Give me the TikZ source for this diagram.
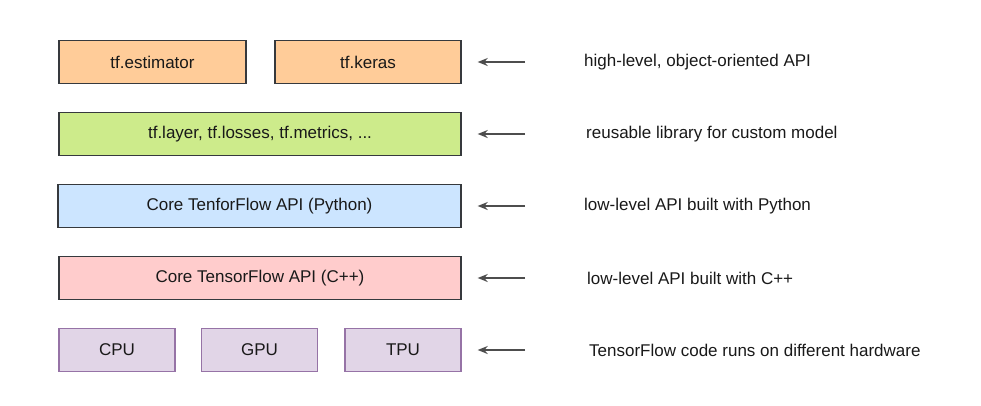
\documentclass[tikz,border=0pt]{standalone}
\usepackage{fontspec}
\setmainfont{Liberation Sans}
\usepackage{tikz}
\usetikzlibrary{arrows.meta, positioning, calc}

\definecolor{orangefill}{HTML}{FFCC99}
\definecolor{greenfill}{HTML}{CDEB8B}
\definecolor{bluefill}{HTML}{CCE5FF}
\definecolor{redfill}{HTML}{FFCCCC}
\definecolor{purplefill}{HTML}{E1D5E7}
\definecolor{purpleline}{HTML}{9673A6}
\definecolor{darkline}{HTML}{36393D}
\definecolor{arrowgray}{HTML}{4D4D4D}

\tikzset{
  layerbox/.style={draw=darkline, line width=1.4pt, rectangle, minimum height=43pt, inner sep=0pt, text=black!90},
  hwbox/.style={layerbox, draw=purpleline, fill=purplefill, minimum width=116pt},
  note/.style={anchor=west, inner sep=0pt, text=black!90},
  pointer/.style={->, line width=1.5pt, draw=arrowgray, shorten <=59pt, shorten >=16pt}
}

\begin{document}
\begin{tikzpicture}[x=1pt, y=-1pt, >={Stealth[length=10pt, width=8pt]}, font=\fontsize{17}{20}\selectfont]
				\useasboundingbox (0, 0) rectangle (981, 405);
				
				\node[layerbox, fill=orangefill, minimum width=187pt] (estimator) at (152.5, 62) {tf.estimator};
				\node[layerbox, fill=orangefill, minimum width=186pt] (keras) at (368, 62) {tf.keras};
				\node[layerbox, fill=greenfill, minimum width=402pt] (layers) at (260, 134) {tf.layer, tf.losses, tf.metrics, ...};
				\node[layerbox, fill=bluefill, minimum width=403pt] (corepy) at (259.5, 206) {Core TenforFlow API (Python)};
				\node[layerbox, fill=redfill, minimum width=402pt] (corecpp) at (260, 278) {Core TensorFlow API (C++)};
				
				\node[hwbox] (cpu) at (117, 350) {CPU};
				\node[hwbox] (gpu) at (259.5, 350) {GPU};
				\node[hwbox] (tpu) at (403, 350) {TPU};
				
				\node[note] (n1) at (584, 62) {high-level, object-oriented API};
				\node[note] (n2) at (586, 134) {reusable library for custom model};
				\node[note] (n3) at (584, 206) {low-level API built with Python};
				\node[note] (n4) at (587, 278) {low-level API built with C++};
				\node[note] (n5) at (589, 350) {TensorFlow code runs on different hardware};
				
				\draw[pointer] (n1) -- (keras);
				\draw[pointer, shorten <=61pt] (n2) -- (layers);
				\draw[pointer] (n3) -- (corepy);
				\draw[pointer, shorten <=62pt] (n4) -- (corecpp);
				\draw[pointer, shorten <=64pt] (n5) -- (tpu);
			\end{tikzpicture}
\end{document}
